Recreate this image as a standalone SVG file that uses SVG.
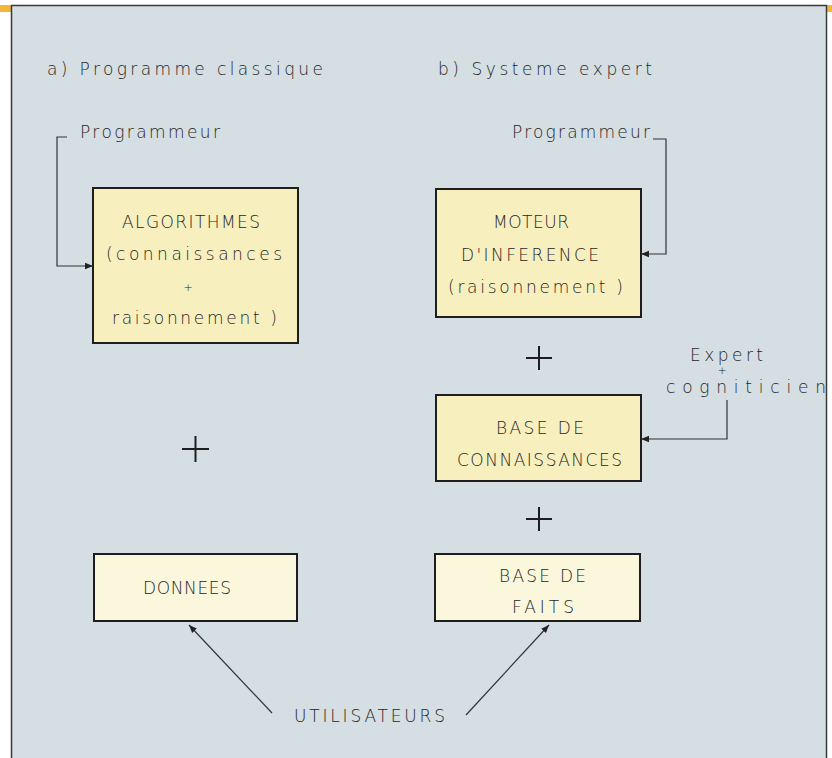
<svg xmlns="http://www.w3.org/2000/svg" width="832" height="758" viewBox="0 0 832 758">
<defs>
<style>
text{font-family:"DejaVu Sans","Liberation Sans",sans-serif;font-weight:200;fill:#262626;font-size:17px}
.c{text-anchor:middle}
.sm{font-size:11px}
.box{stroke:#1e1e1e;stroke-width:2}
.k1{fill:#f8efbf}
.k2{fill:#fbf7dc}
.ln{stroke:#333;stroke-width:1.2;fill:none}
.pl{stroke:#1e1e1e;stroke-width:2}
</style>
<marker id="ah" viewBox="0 0 10 10" refX="10" refY="5" markerWidth="8" markerHeight="8" markerUnits="userSpaceOnUse" orient="auto">
<path d="M0,1 L10,5 L0,9 Z" fill="#222"/>
</marker>
</defs>
<rect x="0" y="0" width="832" height="758" fill="#ffffff"/>
<rect x="0" y="5" width="12" height="7" fill="#f2b63a"/>
<rect x="826" y="5" width="6" height="7" fill="#f2b63a"/>
<rect x="11.5" y="5.5" width="815" height="760" fill="#d5dee2" stroke="#3a3a3a" stroke-width="1.5"/>

<text x="47" y="75" textLength="276" lengthAdjust="spacing">a) Programme classique</text>
<text x="438" y="75" textLength="214" lengthAdjust="spacing">b) Systeme expert</text>

<g id="programmeur-a">
<text x="80" y="138" textLength="140" lengthAdjust="spacing">Programmeur</text>
</g>
<g id="programmeur-b">
<text x="512" y="138" textLength="138" lengthAdjust="spacing">Programmeur</text>
</g>
<g id="expert">
<text x="690" y="361" textLength="73" lengthAdjust="spacing">Expert</text>
<text x="722" y="374" class="c sm">+</text>
<text x="666" y="393" textLength="160" lengthAdjust="spacing">cogniticien</text>
</g>

<g id="algorithmes">
<rect class="box k1" x="93" y="188" width="205" height="155"/>
<text x="122" y="228" textLength="138" lengthAdjust="spacing">ALGORITHMES</text>
<text x="106" y="260" textLength="176" lengthAdjust="spacing">(connaissances</text>
<text x="188" y="291" class="c sm">+</text>
<text x="112" y="324" textLength="165" lengthAdjust="spacing">raisonnement )</text>
</g>

<g id="moteur">
<rect class="box k1" x="436" y="189" width="205" height="128"/>
<text x="493" y="228" textLength="76" lengthAdjust="spacing">MOTEUR</text>
<text x="461" y="261" textLength="138" lengthAdjust="spacing">D'INFERENCE</text>
<text x="448" y="293" textLength="175" lengthAdjust="spacing">(raisonnement )</text>
</g>

<g id="base-connaissances">
<rect class="box k1" x="436" y="395" width="205" height="86"/>
<text x="496" y="434" textLength="88" lengthAdjust="spacing">BASE DE</text>
<text x="457" y="466" textLength="165" lengthAdjust="spacing">CONNAISSANCES</text>
</g>

<g id="donnees">
<rect class="box k2" x="94" y="554" width="203" height="67"/>
<text x="143" y="594" textLength="88" lengthAdjust="spacing">DONNEES</text>
</g>

<g id="base-faits">
<rect class="box k2" x="435" y="554" width="205" height="67"/>
<text x="499" y="582" textLength="87" lengthAdjust="spacing">BASE DE</text>
<text x="512" y="613" textLength="62" lengthAdjust="spacing">FAITS</text>
</g>

<g id="utilisateurs">
<text x="294" y="722" textLength="151" lengthAdjust="spacing">UTILISATEURS</text>
</g>

<g id="plus-signs">
<path class="pl" d="M182,449 H209 M195.5,436 V462"/>
<path class="pl" d="M526,358 H552 M539,346 V370"/>
<path class="pl" d="M526,519 H552 M539,507 V531"/>
</g>

<g id="connectors">
<path class="ln" d="M67,137 H57 V266 H93" marker-end="url(#ah)"/>
<path class="ln" d="M653,139 H666 V254 H641" marker-end="url(#ah)"/>
<path class="ln" d="M727,400 V439 H641" marker-end="url(#ah)"/>
<path class="ln" d="M272,713 L189,625" marker-end="url(#ah)"/>
<path class="ln" d="M466,715 L549,625" marker-end="url(#ah)"/>
</g>
</svg>
